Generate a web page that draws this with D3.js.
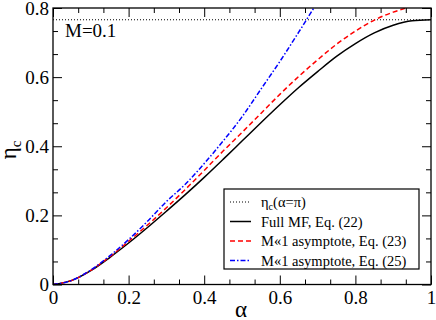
<!DOCTYPE html>
<html>
<head>
<meta charset="utf-8">
<script src="https://cdn.jsdelivr.net/npm/d3@7"></script>
<style>
  body { margin: 0; background: #fff; }
</style>
</head>
<body>
<svg id="chart" width="436" height="320"></svg>
<script>
// data
var alphaGrid = [0, 0.05, 0.1, 0.15, 0.2, 0.25, 0.3, 0.35, 0.4, 0.45, 0.5, 0.55, 0.6, 0.65, 0.7, 0.75, 0.8, 0.85, 0.9, 0.95, 1.0];
var etaFull   = [0, 0.012, 0.04, 0.078, 0.12, 0.165, 0.212, 0.26, 0.31, 0.362, 0.415, 0.468, 0.52, 0.57, 0.616, 0.66, 0.697, 0.728, 0.75, 0.763, 0.766];

var alphaAsym23 = [0, 0.05, 0.1, 0.15, 0.2, 0.25, 0.3, 0.35, 0.4, 0.45, 0.5, 0.55, 0.6, 0.65, 0.7, 0.75, 0.8, 0.85, 0.9, 0.935];
var etaAsym23   = [0, 0.012, 0.041, 0.08, 0.125, 0.172, 0.222, 0.275, 0.33, 0.386, 0.44, 0.495, 0.55, 0.602, 0.65, 0.695, 0.733, 0.765, 0.788, 0.8];

var alphaAsym25 = [0, 0.05, 0.1, 0.15, 0.2, 0.25, 0.3, 0.35, 0.4, 0.45, 0.5, 0.55, 0.6, 0.65, 0.69];
var etaAsym25   = [0, 0.012, 0.042, 0.083, 0.13, 0.183, 0.24, 0.29, 0.35, 0.415, 0.485, 0.565, 0.645, 0.73, 0.8];

var etaPi = 0.766;

var xMajor = [0, 0.2, 0.4, 0.6, 0.8, 1];
var xLabels = ["0", "0.2", "0.4", "0.6", "0.8", "1"];
var yMajor = [0, 0.2, 0.4, 0.6, 0.8];
var yLabels = ["0", "0.2", "0.4", "0.6", "0.8"];

var legendItems = ["eta", "Full MF, Eq. (22)", "M\u00AB1 asymptote, Eq. (23)", "M\u00AB1 asymptote, Eq. (25)"];

var serif = "'Liberation Serif', 'Times New Roman', Times, serif";

// layout (plot box)
var pL = 53, pR = 431, pT = 8, pB = 284.5;

var svg = d3.select("#chart");

var x = d3.scaleLinear().domain([0, 1]).range([pL, pR]);
var y = d3.scaleLinear().domain([0, 0.8]).range([pB, pT]);

// minor ticks every 1/15
var xMinor = d3.range(0, 16).filter(function(i) { return i % 3 != 0; }).map(function(i) { return i / 15; });
var yMinor = d3.range(0, 13).filter(function(i) { return i % 3 != 0; }).map(function(i) { return i / 15; });

svg.append("clipPath").attr("id", "clip")
  .append("rect").attr("x", pL).attr("y", pT).attr("width", pR - pL).attr("height", pB - pT);

// curves
var line = d3.line()
  .x(function(d) { return x(d[0]); })
  .y(function(d) { return y(d[1]); })
  .curve(d3.curveMonotoneX);

var plot = svg.append("g").attr("clip-path", "url(#clip)");

plot.append("line")
  .attr("x1", x(0)).attr("x2", x(1))
  .attr("y1", y(etaPi)).attr("y2", y(etaPi))
  .style("stroke", "#000").style("stroke-width", 1.2)
  .style("stroke-dasharray", "1,2");

plot.append("path")
  .datum(d3.zip(alphaGrid, etaFull))
  .attr("d", line)
  .style("fill", "none").style("stroke", "#000").style("stroke-width", 1.5);

plot.append("path")
  .datum(d3.zip(alphaAsym23, etaAsym23))
  .attr("d", line)
  .style("fill", "none").style("stroke", "#ff0000").style("stroke-width", 1.5)
  .style("stroke-dasharray", "5,3");

plot.append("path")
  .datum(d3.zip(alphaAsym25, etaAsym25))
  .attr("d", line)
  .style("fill", "none").style("stroke", "#0000ff").style("stroke-width", 1.5)
  .style("stroke-dasharray", "5,2,1.5,2");

// axes, ticks pointing inward on all four sides
function styleAxis(g) {
  g.attr("font-family", serif);
  g.select(".domain").remove();
  g.selectAll("line").style("stroke", "#000").style("stroke-width", 1);
  g.selectAll("text").style("font-family", serif).style("font-size", "19px").style("fill", "#000");
}

svg.append("g").attr("transform", "translate(0," + pB + ")")
  .call(d3.axisBottom(x).tickValues(xMajor).tickSize(-9).tickPadding(6)
    .tickFormat(function(d, i) { return xLabels[i]; }))
  .call(styleAxis);
svg.append("g").attr("transform", "translate(0," + pB + ")")
  .call(d3.axisBottom(x).tickValues(xMinor).tickSize(-5).tickFormat(""))
  .call(styleAxis);
svg.append("g").attr("transform", "translate(0," + pT + ")")
  .call(d3.axisTop(x).tickValues(xMajor).tickSize(-9).tickFormat(""))
  .call(styleAxis);
svg.append("g").attr("transform", "translate(0," + pT + ")")
  .call(d3.axisTop(x).tickValues(xMinor).tickSize(-5).tickFormat(""))
  .call(styleAxis);

svg.append("g").attr("transform", "translate(" + pL + ",0)")
  .call(d3.axisLeft(y).tickValues(yMajor).tickSize(-9).tickPadding(4)
    .tickFormat(function(d, i) { return yLabels[i]; }))
  .call(styleAxis);
svg.append("g").attr("transform", "translate(" + pL + ",0)")
  .call(d3.axisLeft(y).tickValues(yMinor).tickSize(-5).tickFormat(""))
  .call(styleAxis);
svg.append("g").attr("transform", "translate(" + pR + ",0)")
  .call(d3.axisRight(y).tickValues(yMajor).tickSize(-9).tickFormat(""))
  .call(styleAxis);
svg.append("g").attr("transform", "translate(" + pR + ",0)")
  .call(d3.axisRight(y).tickValues(yMinor).tickSize(-5).tickFormat(""))
  .call(styleAxis);

// frame
svg.append("rect")
  .attr("x", pL).attr("y", pT)
  .attr("width", pR - pL).attr("height", pB - pT)
  .style("fill", "none").style("stroke", "#000").style("stroke-width", 1.3);

// annotation
svg.append("text").attr("x", 65).attr("y", 37)
  .style("font-family", serif).style("font-size", "19px").text("M=0.1");

// axis titles
svg.append("text").attr("x", 241).attr("y", 317)
  .attr("text-anchor", "middle").style("font-family", serif).style("font-size", "23px").text("\u03B1");

var yt = svg.append("text")
  .attr("transform", "translate(16,150) rotate(-90)")
  .attr("text-anchor", "middle").style("font-family", serif).style("font-size", "23px");
yt.append("tspan").text("\u03B7");
yt.append("tspan").attr("dy", 5).style("font-size", "15px").text("c");

// legend
var lg = svg.append("g");
lg.append("rect")
  .attr("x", 224).attr("y", 189).attr("width", 195).attr("height", 80)
  .style("fill", "#fff").style("stroke", "#000").style("stroke-width", 1.2);

var legStyles = [
  { stroke: "#000", dash: "1,2", w: 1.2 },
  { stroke: "#000", dash: null, w: 1.5 },
  { stroke: "#ff0000", dash: "5,3", w: 1.5 },
  { stroke: "#0000ff", dash: "5,2,1.5,2", w: 1.5 }
];

legendItems.forEach(function(label, i) {
  var ly = 202 + i * 19.5;
  lg.append("line")
    .attr("x1", 230).attr("x2", 251).attr("y1", ly).attr("y2", ly)
    .style("stroke", legStyles[i].stroke).style("stroke-width", legStyles[i].w)
    .style("stroke-dasharray", legStyles[i].dash);
  var t = lg.append("text").attr("x", 261).attr("y", ly + 5)
    .style("font-family", serif).style("font-size", "14.5px");
  if (label == "eta") {
    t.append("tspan").text("\u03B7");
    t.append("tspan").attr("dy", 3).style("font-size", "10px").text("c");
    t.append("tspan").attr("dy", -3).text("(\u03B1=\u03C0)");
  } else {
    t.text(label);
  }
});
</script>
</body>
</html>
